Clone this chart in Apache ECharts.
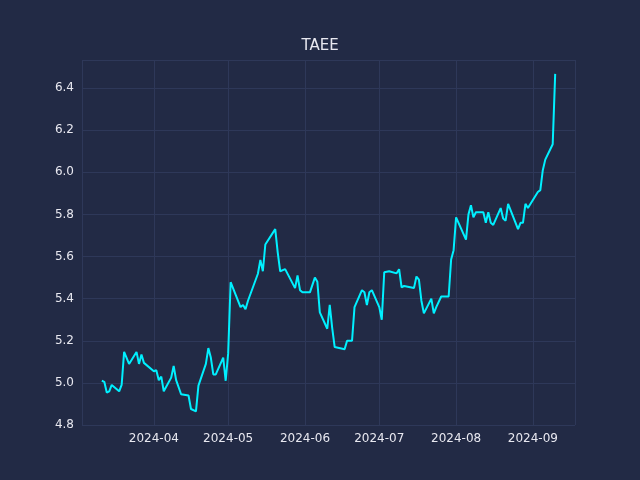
<!DOCTYPE html>
<html><head><meta charset="utf-8">
<script src="https://cdn.jsdelivr.net/npm/echarts@6/dist/echarts.min.js"></script>
<style>html,body{margin:0;padding:0;background:#222a45}#c{width:640px;height:480px}</style>
</head><body><div id="c"></div>
<script>
const dates = ["2024-03-11","2024-03-12","2024-03-13","2024-03-14","2024-03-15","2024-03-18","2024-03-19","2024-03-20","2024-03-22","2024-03-25","2024-03-26","2024-03-27","2024-03-28",
"2024-04-01","2024-04-02","2024-04-03","2024-04-04","2024-04-05","2024-04-08","2024-04-09","2024-04-10","2024-04-12","2024-04-15","2024-04-16","2024-04-18","2024-04-19","2024-04-22","2024-04-23","2024-04-24","2024-04-25","2024-04-26","2024-04-29","2024-04-30",
"2024-05-01","2024-05-02","2024-05-06","2024-05-07","2024-05-08","2024-05-09","2024-05-13","2024-05-14","2024-05-15","2024-05-16","2024-05-20","2024-05-21","2024-05-22","2024-05-24","2024-05-28","2024-05-29","2024-05-30","2024-05-31",
"2024-06-03","2024-06-05","2024-06-06","2024-06-07","2024-06-10","2024-06-11","2024-06-12","2024-06-13","2024-06-17","2024-06-18","2024-06-20","2024-06-21","2024-06-24","2024-06-25","2024-06-26","2024-06-27","2024-06-28",
"2024-07-01","2024-07-02","2024-07-03","2024-07-05","2024-07-08","2024-07-09","2024-07-10","2024-07-11","2024-07-15","2024-07-16","2024-07-17","2024-07-18","2024-07-19","2024-07-22","2024-07-23","2024-07-24","2024-07-26","2024-07-29","2024-07-30","2024-07-31",
"2024-08-01","2024-08-05","2024-08-06","2024-08-07","2024-08-08","2024-08-09","2024-08-12","2024-08-13","2024-08-14","2024-08-15","2024-08-16","2024-08-19","2024-08-20","2024-08-21","2024-08-22","2024-08-26","2024-08-27","2024-08-28","2024-08-29","2024-08-30",
"2024-09-03","2024-09-04","2024-09-05","2024-09-06","2024-09-09","2024-09-10"];
const prices = [5.01,5.005,4.954,4.96,4.99,4.96,4.99,5.147,5.09,5.147,5.09,5.135,5.095,
5.055,5.06,5.013,5.03,4.96,5.025,5.08,5.013,4.946,4.94,4.876,4.865,4.987,5.09,5.165,5.12,5.04,5.04,5.12,5.01,
5.14,5.478,5.36,5.37,5.35,5.39,5.518,5.584,5.53,5.657,5.73,5.62,5.53,5.54,5.45,5.51,5.44,5.43,
5.43,5.50,5.48,5.335,5.257,5.37,5.26,5.17,5.16,5.20,5.20,5.36,5.44,5.43,5.37,5.43,5.44,
5.36,5.30,5.525,5.53,5.52,5.54,5.454,5.46,5.45,5.505,5.49,5.39,5.33,5.40,5.33,5.36,5.41,5.41,5.586,5.63,
5.786,5.68,5.80,5.843,5.786,5.81,5.81,5.76,5.81,5.76,5.75,5.83,5.78,5.77,5.85,5.73,5.76,5.76,5.85,5.83,
5.906,5.915,6.01,6.06,6.133,6.467];
const yTicks = {min:4.8, max:6.533, interval:0.2};
const chart = echarts.init(document.getElementById('c'));
const grid = '#2e3859';
chart.setOption({
  backgroundColor:'#222a45',
  title:{text:'TAEE',left:'center',top:34,textStyle:{color:'#e8e8f0',fontSize:15,fontWeight:'normal',fontFamily:'DejaVu Sans'}},
  grid:{left:82,right:65,top:60,bottom:55},
  xAxis:{type:'time',min:+new Date('2024-03-03'),max:+new Date('2024-09-18'),
    minInterval:28*864e5,maxInterval:31*864e5,
    axisLine:{show:false},axisTick:{show:false},
    splitLine:{show:true,lineStyle:{color:grid}},
    axisLabel:{color:'#e8e8f0',fontSize:12,fontFamily:'DejaVu Sans',formatter:v=>{const d=new Date(v);return d.getFullYear()+'-'+String(d.getMonth()+1).padStart(2,'0');},hideOverlap:true}},
  yAxis:{type:'value',min:yTicks.min,max:yTicks.max,interval:yTicks.interval,
    axisLine:{show:false},axisTick:{show:false},
    splitLine:{lineStyle:{color:grid}},
    axisLabel:{color:'#e8e8f0',fontSize:12,fontFamily:'DejaVu Sans',showMaxLabel:false,formatter:v=>v.toFixed(1)}},
  series:[{type:'line',data:dates.map((d,i)=>[d,prices[i]]),showSymbol:false,lineStyle:{color:'#00f0ff',width:2},itemStyle:{color:'#00f0ff'}}]
});
</script></body></html>
